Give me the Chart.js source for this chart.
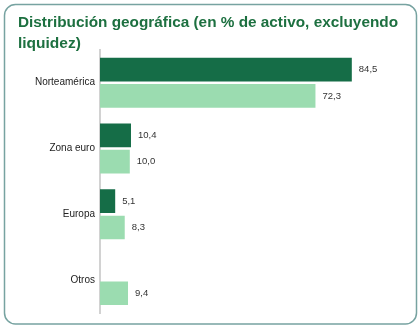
<!DOCTYPE html>
<html>
<head>
<meta charset="utf-8">
<script src="https://cdn.jsdelivr.net/npm/chart.js@4/dist/chart.umd.min.js"></script>
<style>
  html, body { margin: 0; padding: 0; background: #fff; }
  #wrap { width: 420px; height: 330px; }
</style>
</head>
<body>
<div id="wrap"><canvas id="geo-chart" width="420" height="330"></canvas></div>
<script>
const regions = ['Norteamérica', 'Zona euro', 'Europa', 'Otros'];
const seriesA = [84.5, 10.4, 5.1, null];
const seriesB = [72.3, 10.0, 8.3, 9.4];
const titleLines = ['Distribución geográfica (en % de activo, excluyendo', 'liquidez)'];

const fmt = (v) => v.toFixed(1).replace('.', ',');

// rounded frame round the whole panel
const framePlugin = {
    id: 'frame',
    beforeDraw(chart) {
        const ctx = chart.ctx;
        ctx.save();
        ctx.strokeStyle = '#77a3a1';
        ctx.lineWidth = 1.5;
        ctx.beginPath();
        ctx.roundRect(4.5, 4.5, 412, 319.5, 11);
        ctx.stroke();
        ctx.restore();
    }
};

// value next to the end of each bar
const valueLabels = {
    id: 'valueLabels',
    afterDatasetsDraw(chart) {
        const ctx = chart.ctx;
        ctx.save();
        ctx.font = '9.5px "Liberation Sans", Arial, sans-serif';
        ctx.fillStyle = '#333';
        ctx.textAlign = 'left';
        ctx.textBaseline = 'middle';
        chart.data.datasets.forEach((ds, i) => {
            chart.getDatasetMeta(i).data.forEach((bar, j) => {
                const v = ds.data[j];
                if (v == null) return;
                ctx.fillText(fmt(v), bar.x + 7, bar.y);
            });
        });
        ctx.restore();
    }
};

new Chart(document.getElementById('geo-chart'), {
    type: 'bar',
    data: {
        labels: regions,
        datasets: [{
            data: seriesA,
            backgroundColor: '#156d47',
            categoryPercentage: 0.8,
            barPercentage: 0.9
        }, {
            data: seriesB,
            backgroundColor: '#9bdcb0',
            categoryPercentage: 0.8,
            barPercentage: 0.9
        }]
    },
    options: {
        indexAxis: 'y',
        responsive: false,
        animation: false,
        layout: {
            padding: {left: 18, right: 22, top: 0, bottom: 17}
        },
        plugins: {
            legend: {display: false},
            tooltip: {enabled: false},
            title: {
                display: true,
                text: titleLines,
                align: 'start',
                color: '#1d7040',
                font: {family: '"Liberation Sans", Arial, sans-serif', size: 15.5, weight: 'bold', lineHeight: 1.35},
                padding: {top: 12, bottom: -4}
            }
        },
        scales: {
            x: {
                display: false,
                min: 0,
                max: 100
            },
            y: {
                afterFit: (s) => { s.width = 82; },
                grid: {display: false, drawTicks: false},
                border: {display: true, color: '#d2d2d2', width: 2},
                ticks: {
                    color: '#222',
                    padding: 5,
                    font: {family: '"Liberation Sans", Arial, sans-serif', size: 10}
                }
            }
        }
    },
    plugins: [framePlugin, valueLabels]
});
</script>
</body>
</html>
